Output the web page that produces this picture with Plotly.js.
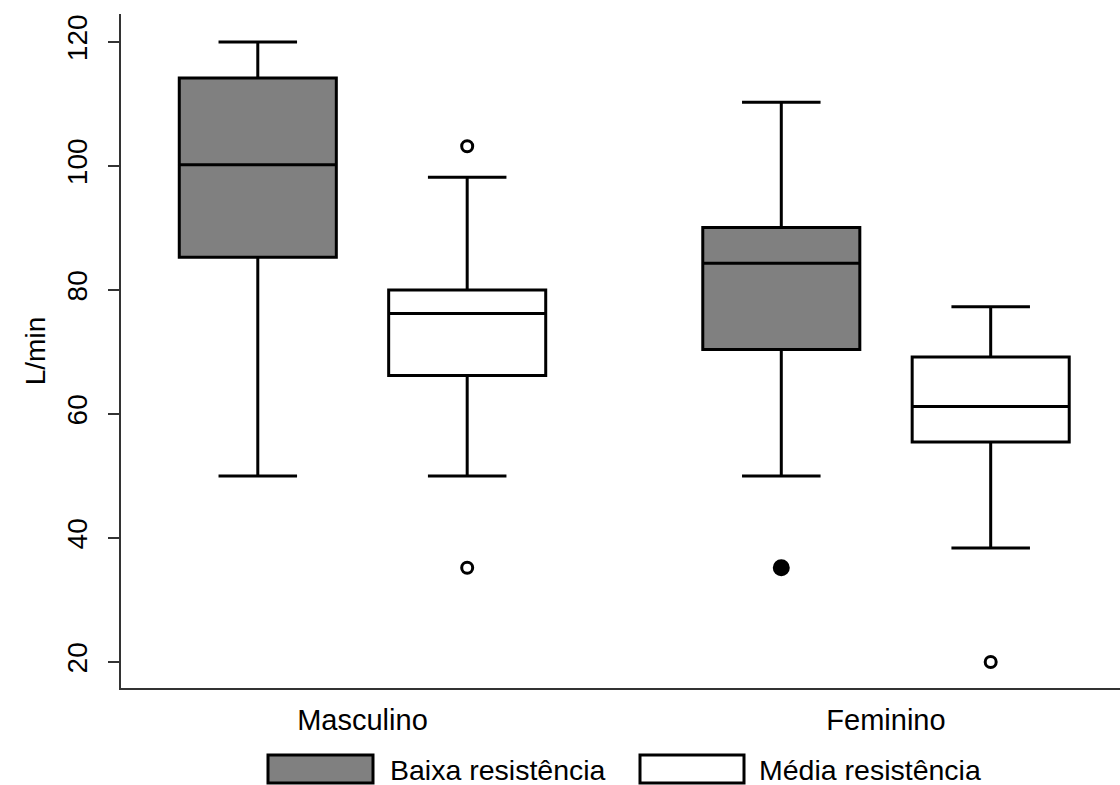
<!DOCTYPE html>
<html>
<head>
<meta charset="utf-8">
<script src="https://cdn.plot.ly/plotly-3.0.1.min.js"></script>
<style>html,body{margin:0;padding:0;background:#fff;}#chart{width:1120px;height:785px;}</style>
</head>
<body>
<div id="chart"></div>
<script>
// ---- data ----
const groups = ['Masculino', 'Feminino'];
const seriesNames = ['Baixa resistência', 'Média resistência'];
const yTickVals = [20, 40, 60, 80, 100, 120];

const baixaQ1 = [85.3, 70.4];
const baixaMedian = [100.2, 84.3];
const baixaQ3 = [114.2, 90.1];
const baixaLower = [50, 50];
const baixaUpper = [120, 110.3];
const baixaOutliers = [[], [35.2]];

const mediaQ1 = [66.2, 55.5];
const mediaMedian = [76.2, 61.2];
const mediaQ3 = [80, 69.2];
const mediaLower = [50, 38.4];
const mediaUpper = [98.2, 77.3];
const mediaOutliers = [[103.2, 35.2], [20]];

// ---- layout constants ----
const W = 1120, H = 785;
const M = {l: 121, r: 0, t: 14, b: 97};
const offsets = [-0.2, 0.2];
const boxWidth = 0.3;
const fills = ['#808080', '#ffffff'];
const FONT = 'Liberation Sans, Arial, sans-serif';

const idx = groups.map((g, i) => i);
const traces = [];
const stats = [
  {q1: baixaQ1, med: baixaMedian, q3: baixaQ3, lo: baixaLower, hi: baixaUpper, out: baixaOutliers, sym: 'circle'},
  {q1: mediaQ1, med: mediaMedian, q3: mediaQ3, lo: mediaLower, hi: mediaUpper, out: mediaOutliers, sym: 'circle-open'}
];
stats.forEach((s, k) => {
  traces.push({
    type: 'box',
    name: seriesNames[k],
    x: idx.map(i => i + offsets[k]),
    q1: s.q1, median: s.med, q3: s.q3,
    lowerfence: s.lo, upperfence: s.hi,
    width: boxWidth,
    whiskerwidth: 0.5,
    fillcolor: fills[k],
    line: {color: '#000', width: 3},
    boxpoints: false,
    showlegend: false,
    hoverinfo: 'skip'
  });
  const ox = [], oy = [];
  s.out.forEach((arr, i) => arr.forEach(v => { ox.push(i + offsets[k]); oy.push(v); }));
  traces.push({
    type: 'scatter', mode: 'markers', x: ox, y: oy,
    marker: {symbol: s.sym, size: s.sym === 'circle' ? 14 : 11, color: '#000', line: {color: '#000', width: 3}},
    showlegend: false, hoverinfo: 'skip'
  });
});

// legend drawn in paper coords
const pw = W - M.l - M.r, ph = H - M.t - M.b;
const xp = px => (px - M.l) / pw;
const yp = py => (H - M.b - py) / ph;
const legendBoxes = [[268, 373], [640, 744]];
const legendText = [388, 757];
const shapes = [], annotations = [];
seriesNames.forEach((n, k) => {
  shapes.push({type: 'rect', xref: 'paper', yref: 'paper',
    x0: xp(legendBoxes[k][0]), x1: xp(legendBoxes[k][1]), y0: yp(783), y1: yp(755),
    fillcolor: fills[k], line: {color: '#000', width: 3}});
  annotations.push({xref: 'paper', yref: 'paper', x: xp(legendText[k]), y: yp(770),
    xanchor: 'left', yanchor: 'middle', showarrow: false, text: n,
    font: {family: FONT, size: 28.5, color: '#000'}});
});

const layout = {
  width: W, height: H,
  margin: M,
  paper_bgcolor: '#fff', plot_bgcolor: '#fff',
  showlegend: false,
  font: {family: FONT, color: '#000'},
  xaxis: {
    range: [-0.4613, 1.447],
    tickvals: idx, ticktext: groups,
    ticks: '', showgrid: false, zeroline: false,
    showline: true, linecolor: '#333', linewidth: 2,
    tickfont: {size: 29, color: '#000'},
    ticklabelstandoff: 5
  },
  yaxis: {
    range: [15.81, 124.52],
    tickvals: yTickVals,
    ticks: 'outside', ticklen: 11, tickwidth: 2, tickcolor: '#333',
    tickangle: -90,
    showgrid: false, zeroline: false,
    showline: true, linecolor: '#333', linewidth: 2,
    tickfont: {size: 28, color: '#000'},
    ticklabelstandoff: 10,
    title: {text: 'L/min', font: {size: 28, color: '#000'}, standoff: 8}
  },
  shapes: shapes,
  annotations: annotations
};

Plotly.newPlot('chart', traces, layout, {staticPlot: true, displayModeBar: false});
</script>
</body>
</html>
